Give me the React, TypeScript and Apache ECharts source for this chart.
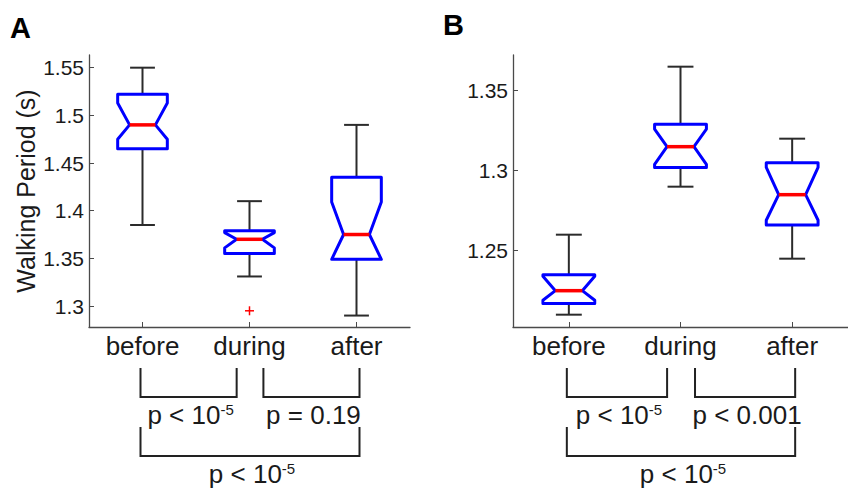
import React, { useEffect, useRef } from 'react';
import * as echarts from 'echarts';

const categories = ['before', 'during', 'after'];

// Panel A (Walking Period, s)
const minA = [1.385, 1.331, 1.29];
const q1A = [1.465, 1.355, 1.349];
const medianA = [1.49, 1.37, 1.375];
const q3A = [1.522, 1.379, 1.435];
const maxA = [1.55, 1.41, 1.49];
const notchLowA = [1.475, 1.361, 1.349];
const notchHighA = [1.513, 1.377, 1.409];
const outliersA = [[1, 1.295]];

// Panel B
const minB = [1.21, 1.29, 1.245];
const q1B = [1.217, 1.302, 1.266];
const medianB = [1.225, 1.315, 1.285];
const q3B = [1.235, 1.329, 1.305];
const maxB = [1.26, 1.365, 1.32];
const notchLowB = [1.219, 1.304, 1.269];
const notchHighB = [1.234, 1.326, 1.302];
const outliersB: number[][] = [];

const yTicksA = [1.3, 1.35, 1.4, 1.45, 1.5, 1.55];
const yTicksB = [1.25, 1.3, 1.35];
const yRangeA = [1.278, 1.5633];
const yRangeB = [1.2023, 1.3723];

const bracketPairs = [[0, 1], [1, 2], [0, 2]];
const pLabelsA = ['p < 10{sup|-5}', 'p = 0.19', 'p < 10{sup|-5}'];
const pLabelsB = ['p < 10{sup|-5}', 'p < 0.001', 'p < 10{sup|-5}'];

const FONT = '"Liberation Sans", Arial, Helvetica, sans-serif';
const TEXT = '#1a1a1a';
const AXIS = '#4a4a4a';

function boxRender(params: any, api: any) {
  const x = api.value(0);
  const c = (v: number) => api.coord([x, v]);
  const band = api.size([1, 0])[0];
  const hw = band * 0.232;
  const nw = hw * 0.52;
  const cw = hw * 0.5;
  const cx = c(api.value(3))[0];
  const yMin = c(api.value(1))[1];
  const yQ1 = c(api.value(2))[1];
  const yMed = c(api.value(3))[1];
  const yQ3 = c(api.value(4))[1];
  const yMax = c(api.value(5))[1];
  const yNL = c(api.value(6))[1];
  const yNH = c(api.value(7))[1];
  const wStyle = { stroke: '#2b2b2b', lineWidth: 2 };
  return {
    type: 'group',
    children: [
      { type: 'line', shape: { x1: cx, y1: yQ3, x2: cx, y2: yMax }, style: wStyle },
      { type: 'line', shape: { x1: cx - cw, y1: yMax, x2: cx + cw, y2: yMax }, style: wStyle },
      { type: 'line', shape: { x1: cx, y1: yQ1, x2: cx, y2: yMin }, style: wStyle },
      { type: 'line', shape: { x1: cx - cw, y1: yMin, x2: cx + cw, y2: yMin }, style: wStyle },
      {
        type: 'polygon',
        shape: {
          points: [
            [cx - hw, yQ3], [cx + hw, yQ3], [cx + hw, yNH], [cx + nw, yMed], [cx + hw, yNL],
            [cx + hw, yQ1], [cx - hw, yQ1], [cx - hw, yNL], [cx - nw, yMed], [cx - hw, yNH],
          ],
        },
        style: { fill: '#ffffff', stroke: '#0000ff', lineWidth: 3, lineJoin: 'round' },
      },
      { type: 'line', shape: { x1: cx - nw, y1: yMed, x2: cx + nw, y2: yMed }, style: { stroke: '#ff0000', lineWidth: 3.5 } },
    ],
  };
}

function outlierRender(params: any, api: any) {
  const p = api.coord([api.value(0), api.value(1)]);
  const s = 4.5;
  const st = { stroke: '#ff0000', lineWidth: 1.5 };
  return {
    type: 'group',
    children: [
      { type: 'line', shape: { x1: p[0] - s, y1: p[1], x2: p[0] + s, y2: p[1] }, style: st },
      { type: 'line', shape: { x1: p[0], y1: p[1] - s, x2: p[0], y2: p[1] + s }, style: st },
    ],
  };
}

function makeBracketRender(labels: string[]) {
  return (params: any, api: any) => {
    const i = params.dataIndex;
    const from = api.value(0);
    const to = api.value(1);
    const anchor = api.value(2);
    const band = api.size([1, 0])[0];
    const yBase = api.coord([0, anchor])[1];
    const cFrom = api.coord([from, anchor])[0];
    const cTo = api.coord([to, anchor])[0];
    let x1 = cFrom - 2;
    let x2 = cTo + 3;
    if (to === 1) x2 = cTo - band * 0.12;
    if (from === 1) x1 = cFrom + band * 0.13;
    const level = to - from === 2 ? 1 : 0;
    const top = yBase + 41 + level * 59;
    const bottom = top + 29;
    return {
      type: 'group',
      children: [
        {
          type: 'polyline',
          shape: { points: [[x1, top], [x1, bottom], [x2, bottom], [x2, top]] },
          style: { stroke: '#222222', lineWidth: 2, fill: 'none' },
        },
        {
          type: 'text',
          x: (x1 + x2) / 2 + 2,
          y: bottom + 18,
          style: {
            text: labels[i],
            align: 'center',
            verticalAlign: 'middle',
            fontSize: 26,
            fontFamily: FONT,
            fill: TEXT,
            rich: {
              sup: { fontSize: 15, fontFamily: FONT, fill: TEXT, verticalAlign: 'top', lineHeight: 14 },
            },
          },
        },
      ],
    };
  };
}

function panelSeries(
  idx: number,
  mins: number[], q1s: number[], meds: number[], q3s: number[], maxs: number[],
  nls: number[], nhs: number[], outs: number[][], labels: string[], yRange: number[]
) {
  return [
    {
      type: 'custom',
      xAxisIndex: idx,
      yAxisIndex: idx,
      renderItem: boxRender,
      encode: { x: 0, y: [1, 5] },
      data: categories.map((_, i) => [i, mins[i], q1s[i], meds[i], q3s[i], maxs[i], nls[i], nhs[i]]),
      z: 3,
    },
    {
      type: 'custom',
      xAxisIndex: idx,
      yAxisIndex: idx,
      renderItem: outlierRender,
      encode: { x: 0, y: 1 },
      data: outs,
      z: 4,
    },
    {
      type: 'custom',
      xAxisIndex: idx,
      yAxisIndex: idx,
      renderItem: makeBracketRender(labels),
      clip: false,
      encode: { x: [0, 1], y: 2 },
      data: bracketPairs.map((p) => [p[0], p[1], yRange[0]]),
      z: 5,
    },
  ];
}

function xAxisDef(gridIndex: number) {
  return {
    type: 'category',
    gridIndex,
    data: categories,
    boundaryGap: true,
    axisLine: { lineStyle: { color: AXIS, width: 1.3 } },
    axisTick: { show: true, inside: true, alignWithLabel: true, length: 5, lineStyle: { color: AXIS } },
    axisLabel: { fontSize: 26, fontFamily: FONT, color: TEXT, margin: 6 },
    splitLine: { show: false },
  };
}

function yAxisDef(gridIndex: number, range: number[], ticks: number[], name: string) {
  return {
    type: 'value',
    gridIndex,
    min: range[0],
    max: range[1],
    name,
    nameLocation: 'middle',
    nameRotate: 90,
    nameGap: 51,
    nameTextStyle: { fontSize: 25, fontFamily: FONT, color: TEXT },
    axisLine: { show: true, lineStyle: { color: AXIS, width: 1.3 } },
    axisTick: { show: true, inside: true, length: 5, customValues: ticks, lineStyle: { color: AXIS } },
    axisLabel: {
      fontSize: 21,
      fontFamily: FONT,
      color: TEXT,
      margin: 5,
      customValues: ticks,
      formatter: (v: number) => String(parseFloat(v.toFixed(3))),
    },
    splitLine: { show: false },
  };
}

export default function App() {
  const ref = useRef<HTMLDivElement>(null);
  useEffect(() => {
    if (!ref.current) return;
    const chart = echarts.init(ref.current, undefined, { renderer: 'svg' });
    chart.setOption({
      animation: false,
      backgroundColor: '#ffffff',
      grid: [
        { left: 89, top: 55, width: 321, height: 272 },
        { left: 513, top: 55, width: 344, height: 272 },
      ],
      xAxis: [xAxisDef(0), xAxisDef(1)],
      yAxis: [
        yAxisDef(0, yRangeA, yTicksA, 'Walking Period (s)'),
        yAxisDef(1, yRangeB, yTicksB, ''),
      ],
      graphic: [
        {
          type: 'text',
          left: 10,
          top: 13,
          style: { text: 'A', fontSize: 29, fontWeight: 'bold', fontFamily: FONT, fill: '#000' },
        },
        {
          type: 'text',
          left: 443,
          top: 10,
          style: { text: 'B', fontSize: 29, fontWeight: 'bold', fontFamily: FONT, fill: '#000' },
        },
      ],
      series: [
        ...panelSeries(0, minA, q1A, medianA, q3A, maxA, notchLowA, notchHighA, outliersA, pLabelsA, yRangeA),
        ...panelSeries(1, minB, q1B, medianB, q3B, maxB, notchLowB, notchHighB, outliersB, pLabelsB, yRangeB),
      ],
    });
    return () => chart.dispose();
  }, []);
  return (
    <div
      ref={ref}
      style={{ position: 'absolute', left: 0, top: 0, width: 848, height: 490, background: '#fff' }}
    />
  );
}
